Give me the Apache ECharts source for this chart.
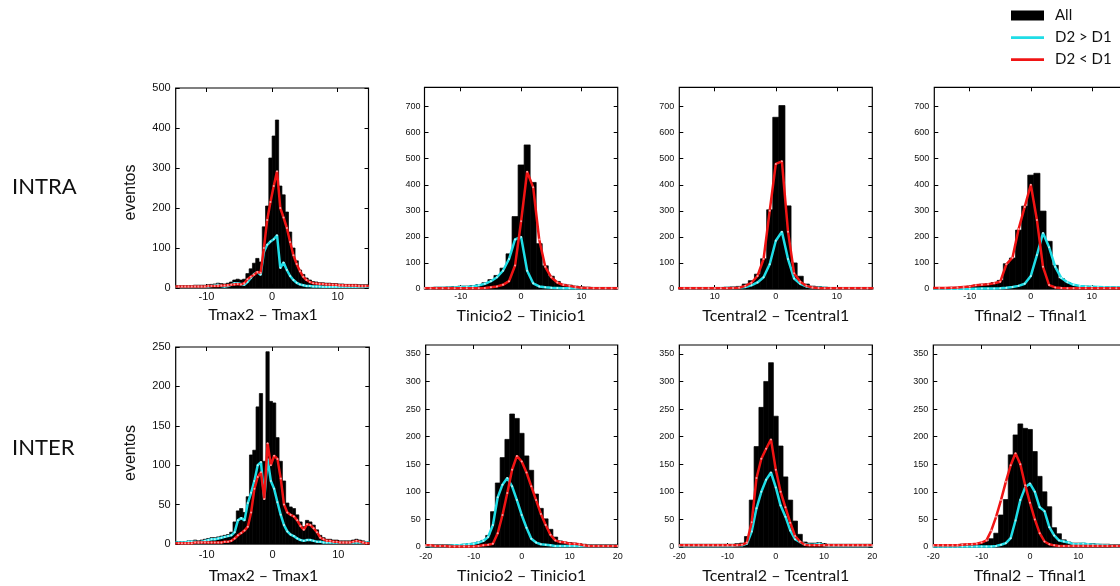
<!DOCTYPE html>
<html>
<head>
<meta charset="utf-8">
<script src="https://cdn.jsdelivr.net/npm/echarts@6.0.0/dist/echarts.min.js"></script>
<style>
  html, body { margin: 0; padding: 0; background: #fff; }
  #chart { width: 1120px; height: 586px; }
</style>
</head>
<body>
<div id="chart"></div>
<script>
// ---- Histogram bins --------------------------------------------------------
// Tmax differences use 0.5-wide bins (first centre -14.75),
// the other three differences use 1-wide bins centred on integers.
const tmaxFirstCentre = -14.75, tmaxBinWidth = 0.5;
const intraFirstCentre = -16, intraBinWidth = 1;
const interFirstCentre = -20, interBinWidth = 1;

// ---- INTRA: Tmax2 - Tmax1 ----
const intraTmaxAll = [6,6,6,6,6,6,7,7,7,7,8,9, 10,12,11,10,12,15, 20,22,20,22, 36,48,62,74, 65,153,205,325, 380,420,255,233, 190,140,100,68, 45,34,25,20, 16,15,13,13, 12,12,11,11,10,10,9,9,9,9,8,8,8,8];
const intraTmaxUp = [3,3,3,3,3,3,4,4,3,3,4,5, 6,8,5,4,5,8, 12,12,10,8, 15,25,35,40, 33,90,108,116, 122,132,50,64, 45,30,20,13, 9,7,5,5, 4,4,4,3, 3,3,3,3,3,3,3,3,3,3,3,3,3,3];
const intraTmaxDown = [4,4,4,4,4,4,4,4,4,4,5,5, 5,5,6,6,7,8, 9,10,9,12, 22,28,33,40, 38,100,170,215, 255,292,200,176, 150,115,82,60, 42,28,20,15, 12,11,10,10, 9,9,8,8,7,7,6,6,6,6,5,5,5,5];

// ---- INTRA: Tinicio2 - Tinicio1 ----
const intraInicioAll = [6,6,7,7,8,9,11, 11,13,17,24,36,52,80,135,278, 476,553,409,174,89,49,29,18,15, 11,8,7,6,6,6,6,6];
const intraInicioUp = [3,3,4,4,5,6,8, 8,10,14,20,30,45,70,115,190, 200,70,22,10,7,5,4,3,3, 3,3,3,3,3,3,3,3];
const intraInicioDown = [3,3,3,3,3,3,3, 3,3,3,4,7,10,16,30,90, 260,450,390,190,85,45,25,15,12, 8,5,4,3,3,3,3,3];

// ---- INTRA: Tcentral2 - Tcentral1 ----
const intraCentralAll = [6,6,6,6,6,6,6, 6,7,8,10,19,32,57,116,304, 659,704,319,100,49,19,11,9,7, 6,6,6,6,6,6,6,6];
const intraCentralUp = [3,3,3,3,3,3,3, 3,4,4,5,8,14,25,45,95, 185,220,115,40,20,10,6,5,4, 3,3,3,3,3,3,3,3];
const intraCentralDown = [3,3,3,3,3,3,3, 3,3,4,5,12,24,50,115,300, 480,490,220,60,28,12,6,4,3, 3,3,3,3,3,3,3,3];

// ---- INTRA: Tfinal2 - Tfinal1 ----
const intraFinalAll = [5,5,5,6,7,9,11, 15,18,20,25,33,97,119,226,318, 437,444,299,183,91,40,25,17,13, 11,10,9,8,8,8,7,7];
const intraFinalUp = [1,1,1,1,1,1,1, 1,2,2,2,3,5,8,12,20, 50,130,215,160,85,42,26,16,12, 10,9,8,7,6,6,5,5];
const intraFinalDown = [4,4,4,5,6,8,10, 14,16,18,22,28,95,120,230,315, 400,265,85,15,6,4,3,3,3, 3,3,3,3,3,3,3,3];

// ---- INTER: Tmax2 - Tmax1 ----
const interTmaxAll = [3,3,3,3,4,4,5,4,5,6,7,8, 8,9,10,11,12,15, 28,42,45,40, 60,113,119,174, 191,105,244,181, 179,135,105,80, 52,47,45,37, 28,22,30,28, 24,18,11,8, 6,6,5,5,4,4,4,4,5,6,5,4,3,3];
const interTmaxUp = [2,2,2,2,3,3,3,2,3,4,5,6, 6,7,8,9,10,11, 15,30,33,30, 52,65,80,100, 104,57,108,80, 70,53,37,24, 16,12,10,7, 5,4,5,5, 4,3,3,2, 2,2,2,2,2,2,2,2,2,2,2,2,2,2];
const interTmaxDown = [1,1,1,1,1,1,2,2,2,2,2,2, 2,2,2,3,3,4, 7,11,14,17, 22,40,70,85, 91,57,128,100, 112,108,83,50, 40,37,35,30, 23,18,25,24, 20,15,8,6, 4,4,3,3,2,2,2,2,3,4,3,2,1,1];

// ---- INTER: Tinicio2 - Tinicio1 ----
const interInicioAll = [4,4,4,4,4,4,4,4,5, 6,7,9,12,21,64,116,162,195,241,233, 206,165,139,96,70,51,32,18,11,9,8, 7,6,5,4,4,4,4,4,4,4];
const interInicioUp = [2,2,2,2,2,2,3,3,4, 5,6,8,11,18,40,90,113,125,110,85, 58,35,15,8,5,4,3,2,2,2,2, 2,2,2,2,2,2,2,2,2,2];
const interInicioDown = [3,3,2,2,2,1,1,1,1, 1,1,2,3,4,6,25,58,98,140,165, 155,135,110,85,60,40,22,12,9,8,6, 6,5,3,2,2,2,2,2,2,2];

// ---- INTER: Tcentral2 - Tcentral1 ----
const interCentralAll = [5,5,5,5,5,5,5,5,5, 5,5,5,6,7,19,85,182,253,300,334, 237,183,127,85,47,23,9,7,7,8,6, 5,5,5,5,5,5,5,5,5,5];
const interCentralUp = [2,2,2,2,2,2,2,2,2, 2,2,2,3,3,6,28,70,100,122,135, 108,75,55,30,14,9,5,4,4,6,3, 2,2,2,2,2,2,2,2,2,2];
const interCentralDown = [3,3,3,3,3,3,3,3,3, 3,3,3,3,4,8,45,125,160,178,195, 140,100,72,44,20,10,4,3,3,3,3, 3,3,3,3,3,3,3,3,3,3];

// ---- INTER: Tfinal2 - Tfinal1 ----
const interFinalAll = [4,4,4,4,4,4,5,5,6, 6,8,10,15,25,58,86,167,203,223,215, 213,173,128,100,73,35,24,13,9,7,7, 7,6,6,5,5,5,4,4,4,4];
const interFinalUp = [1,1,1,1,1,1,1,1,1, 1,1,1,1,2,4,7,16,48,85,108, 115,100,72,65,36,21,12,10,8,5,5, 6,5,4,4,3,3,2,2,2,2];
const interFinalDown = [3,3,3,3,3,3,4,5,5, 6,8,12,30,55,85,118,148,170,150,112, 80,50,25,10,5,3,2,2,2,2,2, 2,2,2,2,2,2,2,2,2,2];

// ---- Tick values and tick label texts ----
const xTicksNarrow = [-10, 0, 10];
const xTextNarrow = ['-10', '0', '10'];
const xTextCentral = ['10', '0', '10'];
const xTicksWide = [-20, -10, 0, 10, 20];
const xTextWide = ['-20', '-10', '0', '10', '20'];
const yTicks500 = [0, 100, 200, 300, 400, 500];
const yTicks700 = [0, 100, 200, 300, 400, 500, 600, 700];
const yTicks250 = [0, 50, 100, 150, 200, 250];
const yTicks350 = [0, 50, 100, 150, 200, 250, 300, 350];

const seriesNames = ['All', 'D2 > D1', 'D2 < D1'];
const rowNames = ['INTRA', 'INTER'];
const axisTitles = ['Tmax2 – Tmax1', 'Tinicio2 – Tinicio1', 'Tcentral2 – Tcentral1', 'Tfinal2 – Tfinal1'];
const yTitle = 'eventos';

const COLOR_UP = '#1fdde6';
const COLOR_DOWN = '#f01414';
const DOT_UP = '#b4f3f6';
const DOT_DOWN = '#ff9c9c';

// ---- Panel layout ----
const panels = [
  { all: intraTmaxAll, up: intraTmaxUp, down: intraTmaxDown, first: tmaxFirstCentre, step: tmaxBinWidth,
    box: [175.7, 88, 192.8, 200], x: [-14.7, 14.7], yMax: 500, yTicks: yTicks500,
    xTicks: xTicksNarrow, xText: xTextNarrow, big: true, title: axisTitles[0], titlePad: [0, 18, 0, 0],
    nameGap: 19, xMargin: 3, yName: true, yNamePad: [0, 9, 0, 0] },
  { all: intraInicioAll, up: intraInicioUp, down: intraInicioDown, first: intraFirstCentre, step: intraBinWidth,
    box: [424.5, 87.3, 193.2, 201.7], x: [-16, 16], yMax: 774, yTicks: yTicks700,
    xTicks: xTicksNarrow, xText: xTextNarrow, title: axisTitles[1], nameGap: 19, xMargin: 3.5 },
  { all: intraCentralAll, up: intraCentralUp, down: intraCentralDown, first: intraFirstCentre, step: intraBinWidth,
    box: [679.3, 87.3, 193, 201.7], x: [-15.8, 15.8], yMax: 774, yTicks: yTicks700,
    xTicks: xTicksNarrow, xText: xTextCentral, title: axisTitles[2], nameGap: 19, xMargin: 3.5 },
  { all: intraFinalAll, up: intraFinalUp, down: intraFinalDown, first: intraFirstCentre, step: intraBinWidth,
    box: [934.3, 87.3, 193, 201.7], x: [-15.8, 15.8], yMax: 774, yTicks: yTicks700,
    xTicks: xTicksNarrow, xText: xTextNarrow, title: axisTitles[3], nameGap: 19, xMargin: 3.5 },
  { all: interTmaxAll, up: interTmaxUp, down: interTmaxDown, first: tmaxFirstCentre, step: tmaxBinWidth,
    box: [175.7, 347, 193.6, 197], x: [-14.7, 14.7], yMax: 250, yTicks: yTicks250,
    xTicks: xTicksNarrow, xText: xTextNarrow, big: true, title: axisTitles[0], titlePad: [0, 18, 0, 0],
    nameGap: 24, xMargin: 5.5, yName: true, yNamePad: [0, 15, 0, 0] },
  { all: interInicioAll, up: interInicioUp, down: interInicioDown, first: interFirstCentre, step: interBinWidth,
    box: [425.7, 345, 192, 202], x: [-20, 20], yMax: 366, yTicks: yTicks350,
    xTicks: xTicksWide, xText: xTextWide, title: axisTitles[1], nameGap: 21, xMargin: 5 },
  { all: interCentralAll, up: interCentralUp, down: interCentralDown, first: interFirstCentre, step: interBinWidth,
    box: [679.3, 345, 193, 202], x: [-20, 20], yMax: 366, yTicks: yTicks350,
    xTicks: xTicksWide, xText: xTextWide, title: axisTitles[2], nameGap: 21, xMargin: 5 },
  { all: interFinalAll, up: interFinalUp, down: interFinalDown, first: interFirstCentre, step: interBinWidth,
    box: [933.3, 345, 193.4, 202], x: [-20, 20], yMax: 366, yTicks: yTicks350,
    xTicks: xTicksWide, xText: xTextWide, title: axisTitles[3], nameGap: 21, xMargin: 5 }
];

const tickFont = 'Liberation Sans';
const textFont = 'Lato';
// thin horizontal bar used as the legend mark of the two curves
const lineIcon = 'path://M0,0H36V3H0Z';

const option = {
  animation: false,
  backgroundColor: '#fff',
  legend: {
    orient: 'vertical',
    left: 1006,
    top: 3,
    itemWidth: 33,
    itemHeight: 10,
    itemGap: 7,
    selectedMode: false,
    textStyle: { fontFamily: textFont, fontSize: 15, color: '#111', padding: [0, 0, 0, 6] },
    data: [
      { name: seriesNames[0], icon: 'rect', itemStyle: { color: '#000' } },
      { name: seriesNames[1], icon: lineIcon, itemStyle: { color: COLOR_UP } },
      { name: seriesNames[2], icon: lineIcon, itemStyle: { color: COLOR_DOWN } }
    ]
  },
  grid: [],
  xAxis: [],
  yAxis: [],
  series: [],
  graphic: rowNames.map((t, r) => ({
    type: 'text',
    style: { text: t, x: 12, y: r === 0 ? 187 : 448, font: '22px ' + textFont, fill: '#111', verticalAlign: 'middle' }
  }))
};

panels.forEach((p, i) => {
  const fs = p.big ? 11 : 9;
  const tick = { show: true, inside: true, length: 4, lineStyle: { color: '#000', width: 1 } };
  const hiddenLine = { show: false, onZero: false };
  option.grid.push({
    left: p.box[0], top: p.box[1], width: p.box[2], height: p.box[3],
    outerBoundsMode: 'none',
    show: true, borderColor: '#000', borderWidth: 1.2, backgroundColor: 'transparent'
  });
  // bottom x axis with labels and title
  option.xAxis.push({
    type: 'value', gridIndex: i, min: p.x[0], max: p.x[1], position: 'bottom',
    axisLine: hiddenLine, splitLine: { show: false },
    axisTick: Object.assign({ customValues: p.xTicks }, tick),
    axisLabel: {
      customValues: p.xTicks, margin: p.xMargin, fontSize: fs, fontFamily: tickFont, color: '#111',
      formatter: v => p.xText[p.xTicks.indexOf(v)]
    },
    name: p.title, nameLocation: 'middle', nameGap: p.nameGap,
    nameTextStyle: { fontFamily: textFont, fontSize: 16, color: '#111', padding: p.titlePad || 0 }
  });
  // top x axis: tick marks only
  option.xAxis.push({
    type: 'value', gridIndex: i, min: p.x[0], max: p.x[1], position: 'top',
    axisLine: hiddenLine, splitLine: { show: false }, axisLabel: { show: false },
    axisTick: Object.assign({ customValues: p.xTicks }, tick)
  });
  // left y axis with labels
  const yLeft = {
    type: 'value', gridIndex: i, min: 0, max: p.yMax, position: 'left',
    axisLine: hiddenLine, splitLine: { show: false },
    axisTick: Object.assign({ customValues: p.yTicks }, tick),
    axisLabel: { customValues: p.yTicks, margin: i === 1 ? 4 : 5, fontSize: fs, fontFamily: tickFont, color: '#111' }
  };
  if (p.yName) {
    Object.assign(yLeft, {
      name: yTitle, nameLocation: 'middle', nameGap: 37, nameRotate: 90,
      nameTextStyle: { fontFamily: tickFont, fontSize: 16, color: '#111', padding: p.yNamePad }
    });
  }
  option.yAxis.push(yLeft);
  // right y axis: tick marks only
  option.yAxis.push({
    type: 'value', gridIndex: i, min: 0, max: p.yMax, position: 'right',
    axisLine: hiddenLine, splitLine: { show: false }, axisLabel: { show: false },
    axisTick: Object.assign({ customValues: p.yTicks }, tick)
  });

  const centres = p.all.map((_, k) => p.first + k * p.step);
  const half = p.step / 2;

  // histogram of all events
  option.series.push({
    type: 'custom', name: seriesNames[0], xAxisIndex: 2 * i, yAxisIndex: 2 * i,
    itemStyle: { color: '#000' }, z: 2,
    encode: { x: 0, y: 1 },
    data: centres.map((c, k) => [c, p.all[k]]),
    renderItem: (params, api) => {
      const c = api.value(0), v = api.value(1);
      const a = api.coord([c - half, v]);
      const b = api.coord([c + half, 0]);
      const cs = params.coordSys;
      const rect = echarts.graphic.clipRectByRect(
        { x: a[0], y: a[1], width: b[0] - a[0], height: b[1] - a[1] },
        { x: cs.x, y: cs.y, width: cs.width, height: cs.height }
      );
      if (!rect) return null;
      return { type: 'rect', shape: rect, style: { fill: '#000', stroke: '#000', lineWidth: 0.7 } };
    }
  });
  // D2 > D1 and D2 < D1 curves, with small light markers at each bin centre
  [[p.up, COLOR_UP, DOT_UP, 1], [p.down, COLOR_DOWN, DOT_DOWN, 2]].forEach(([vals, col, dot, k]) => {
    option.series.push({
      type: 'line', name: seriesNames[k], xAxisIndex: 2 * i, yAxisIndex: 2 * i,
      symbol: 'circle', symbolSize: 2, showSymbol: true, clip: true, z: 2 + k,
      lineStyle: { color: col, width: 2.5 }, itemStyle: { color: dot },
      data: centres.map((c, j) => [c, vals[j]])
    });
  });
});

const chart = echarts.init(document.getElementById('chart'), null, { renderer: 'canvas' });
chart.setOption(option);
</script>
</body>
</html>
